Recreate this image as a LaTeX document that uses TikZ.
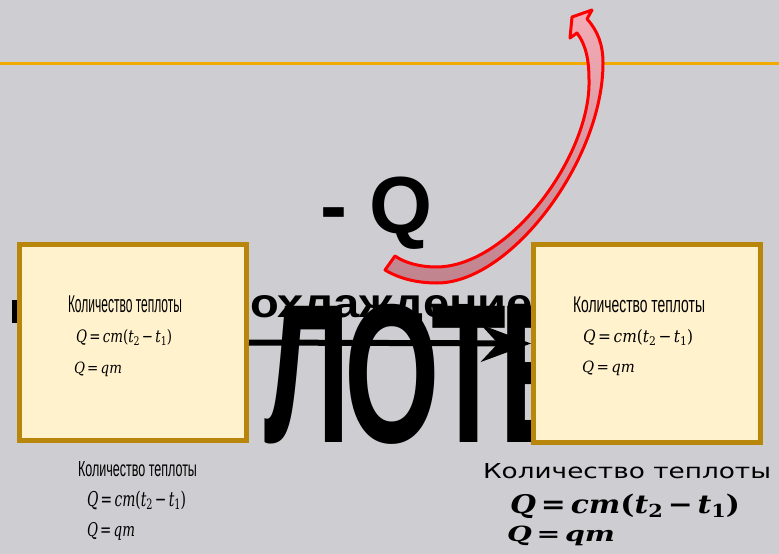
\documentclass[tikz,border=0pt]{standalone}
\usepackage[no-math]{fontspec}
\setmainfont{Liberation Sans}
\newfontfamily\gothic{DejaVu Sans}
\newfontfamily\eqf{DejaVu Serif}
\usepackage{graphicx}
\usetikzlibrary{arrows.meta}
\definecolor{bgcol}{RGB}{206,206,210}
\definecolor{goldline}{RGB}{240,170,0}
\definecolor{boxgold}{RGB}{184,134,11}
\definecolor{boxfill}{RGB}{255,242,205}
\definecolor{pinktop}{RGB}{244,172,182}
\definecolor{pinkbot}{RGB}{192,132,142}
\newcommand\mv[1]{{\itshape #1}}
\newcommand\sbs[1]{\raisebox{-0.35ex}{\scalebox{0.7}{#1}}}
\newcommand\eqA{{\eqf\mv{Q}\,=\,\mv{cm}(\mv{t}\sbs{2}\,−\,\mv{t}\sbs{1})}}
\newcommand\eqB{{\eqf\mv{Q}\,=\,\mv{qm}}}
\tikzset{
  box/.style={draw=boxgold, line width=5pt, fill=boxfill, minimum width=227pt, minimum height=196pt, inner sep=0pt},
  txt/.style={anchor=base west, inner sep=0pt, outer sep=0pt, text=black},
  bigl/.style={anchor=base west, inner sep=0pt, text=black, font=\fontsize{198}{198}\selectfont\bfseries},
  flow/.style={line width=6pt, -{Stealth[length=50pt,width=37pt,inset=17pt]}},
  redarr/.style={draw=red, line width=3pt, line join=round, top color=pinktop, bottom color=pinkbot},
}
\begin{document}
\begin{tikzpicture}[x=1pt,y=-1pt]
\useasboundingbox (0,0) rectangle (779,554);
\fill[bgcol] (0,0) rectangle (779,554);
% gold rule
\coordinate (gl) at (0,63);
\coordinate (gr) at (779,63);
\draw[goldline, line width=3pt] (gl) -- (gr);
% big background word (visible parts)
\fill[black] (12,300) rectangle (18,323);
\node[bigl] (b4) at (264,442) {\scalebox{0.62}[1]{Л}};
\node[bigl] (b5) at (344,442) {\scalebox{0.62}[1]{О}};
\node[bigl] (b6) at (431,442) {\scalebox{0.62}[1]{Т}};
\node[bigl] (b7) at (499,442) {\scalebox{0.62}[1]{Е}};
% boxes
\node[box] (L) at (133,342.5) {};
\node[box, minimum height=198pt] (R) at (647,343.5) {};
% left box text
\node[txt] (l1) at (68,312) {\resizebox{114pt}{16.7pt}{Количество теплоты}};
\node[txt] (l2) at (76,342) {\resizebox{96pt}{13pt}{\eqA}};
\node[txt] (l3) at (74,373) {\resizebox{48pt}{11.5pt}{\eqB}};
% right box text
\node[txt] (r1) at (573,312.3) {\resizebox{132pt}{15.6pt}{Количество теплоты}};
\node[txt] (r2) at (583,342.7) {\resizebox{110pt}{13pt}{\eqA}};
\node[txt] (r3) at (582,372.7) {\resizebox{53pt}{11.5pt}{\eqB}};
% label and arrow
\node[txt] (lab) at (250,317) {\resizebox{283pt}{22pt}{\bfseries охлаждение}};
\draw[flow] (L.east) -- (R.west);
% red curved arrow
\draw[redarr]
  (385,270) .. controls (400,279) and (418,283) .. (437,283)
  .. controls (511,283) and (603,160) .. (603,63)
  .. controls (603,45) and (598,31) .. (587,19)
  -- (592,10) -- (572,17) -- (570,38) -- (577,33)
  .. controls (586,45) and (589,60) .. (589,80)
  .. controls (591,155) and (510,266) .. (437,267)
  .. controls (420,267) and (405,263) .. (395,256)
  -- cycle;
% - Q
\node[txt, font=\fontsize{81}{81}\selectfont\bfseries] (mq) at (320,233) {- Q};
% bottom left
\node[txt] (bl1) at (78,476.7) {\resizebox{119pt}{15pt}{Количество теплоты}};
\node[txt] (bl2) at (87,506) {\resizebox{99pt}{15.5pt}{\eqA}};
\node[txt] (bl3) at (87,536) {\resizebox{48pt}{14pt}{\eqB}};
% bottom right
\node[txt] (br1) at (483,478) {\resizebox{288pt}{15pt}{\gothic Количество теплоты}};
\node[txt] (br2) at (510,513) {\resizebox{230pt}{19.5pt}{\bfseries\eqA}};
\node[txt] (br3) at (507,541.5) {\resizebox{108pt}{15.5pt}{\bfseries\eqB}};
\end{tikzpicture}
\end{document}
